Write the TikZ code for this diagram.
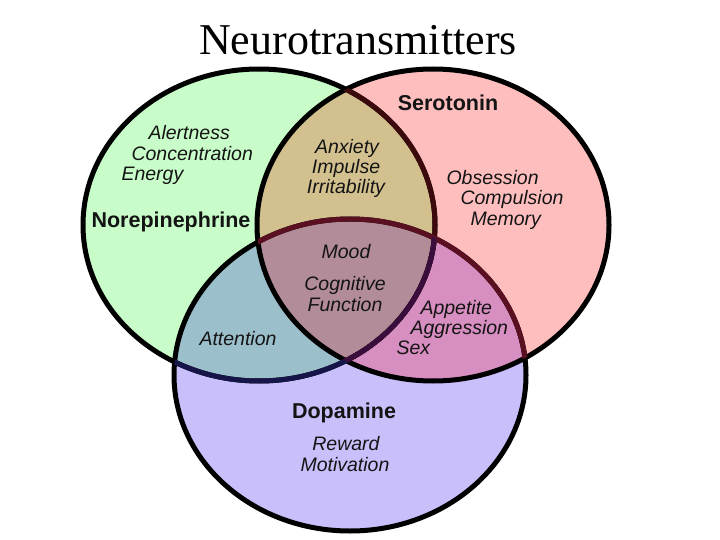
\documentclass[tikz,border=0pt]{standalone}
\usepackage{fontspec}
\setmainfont{Liberation Serif}
\newfontfamily\labfont{Liberation Sans}
\usetikzlibrary{positioning}

\definecolor{neGreen}{HTML}{C8FCC8}
\definecolor{seRed}{HTML}{FFBEBE}
\definecolor{doBlue}{HTML}{C9C0FB}
\definecolor{nsTan}{HTML}{D2C08E}
\definecolor{ndTeal}{HTML}{9CBFCC}
\definecolor{sdPink}{HTML}{D78EC0}
\definecolor{allMauve}{HTML}{B28C98}
\definecolor{rimMaroon}{HTML}{3C0A0C}
\definecolor{rimWine}{HTML}{5A1020}
\definecolor{rimPlum}{HTML}{3A0D3D}
\definecolor{rimNavy}{HTML}{15154A}

\tikzset{
  rim/.style={line width=5pt},
  chem/.style={font=\labfont\bfseries\fontsize{21.5}{24}\selectfont, text=black!92, anchor=mid},
  role/.style={font=\labfont\itshape\fontsize{19.5}{22}\selectfont, text=black!92, anchor=mid},
}

\begin{document}
\begin{tikzpicture}[x=1pt,y=-1pt]
\fill[white] (0,0) rectangle (720,540);
\useasboundingbox (0,0) rectangle (720,540);
\coordinate (N) at (259,225); \coordinate (S) at (433,225); \coordinate (D) at (350,375);

% regions
\fill[neGreen] (N) ellipse (176pt and 156pt);
\fill[seRed] (S) ellipse (176pt and 156pt);
\fill[doBlue] (D) ellipse (176pt and 156pt);
\begin{scope}
  \clip (S) ellipse (176pt and 156pt);
  \fill[sdPink] (D) ellipse (176pt and 156pt);
\end{scope}
\begin{scope}
  \clip (N) ellipse (176pt and 156pt);
  \fill[nsTan] (S) ellipse (176pt and 156pt);
  \fill[ndTeal] (D) ellipse (176pt and 156pt);
  \clip (S) ellipse (176pt and 156pt);
  \fill[allMauve] (D) ellipse (176pt and 156pt);
\end{scope}

% outlines
\draw[rim] (N) ellipse (176pt and 156pt);
\draw[rim] (S) ellipse (176pt and 156pt);
\draw[rim] (D) ellipse (176pt and 156pt);
\begin{scope}
  \clip (D) ellipse (176pt and 156pt);
  \draw[rim,rimNavy] (N) ellipse (176pt and 156pt);
\end{scope}
\begin{scope}
  \clip (S) ellipse (176pt and 156pt);
  \draw[rim,rimMaroon] (N) ellipse (176pt and 156pt);
  \draw[rim,rimWine] (D) ellipse (176pt and 156pt);
  \clip (D) ellipse (176pt and 156pt);
  \draw[rim,rimPlum] (N) ellipse (176pt and 156pt);
\end{scope}

\node[font=\fontsize{44}{48}\selectfont, anchor=base] (title) at (358,55) {Neurotransmitters};

\begin{scope}[shift={(0,5)}]
% Norepinephrine
\node[role, anchor=mid west] (alert) at (145,132) {Alertness};
\node[role, anchor=mid west] (conc) at (128,153) {Concentration};
\node[role, anchor=mid west] (energy) at (118,173) {Energy};
\node[chem] (nore) at (171,220) {Norepinephrine};

% Serotonin
\node[chem] (sero) at (448,103) {Serotonin};
\node[role, anchor=mid west] (obs) at (443,177) {Obsession};
\node[role, anchor=mid west] (comp) at (457,197) {Compulsion};
\node[role, anchor=mid west] (mem) at (467,218) {Memory};

% overlaps
\node[role] (anx) at (347,146) {Anxiety};
\node[role] (imp) at (346,166) {Impulse};
\node[role] (irr) at (346,186) {Irritability};
\node[role] (mood) at (346,251) {Mood};
\node[role] (cog) at (345,283) {Cognitive};
\node[role] (func) at (345,304) {Function};
\node[role, anchor=mid west] (app) at (417,307) {Appetite};
\node[role, anchor=mid west] (aggr) at (407,327) {Aggression};
\node[role, anchor=mid west] (sex) at (393,347) {Sex};
\node[role] (att) at (238,338) {Attention};

% Dopamine
\node[chem] (dopa) at (344,411) {Dopamine};
\node[role] (rew) at (346,443) {Reward};
\node[role] (motiv) at (345,464) {Motivation};
\end{scope}
\end{tikzpicture}
\end{document}
